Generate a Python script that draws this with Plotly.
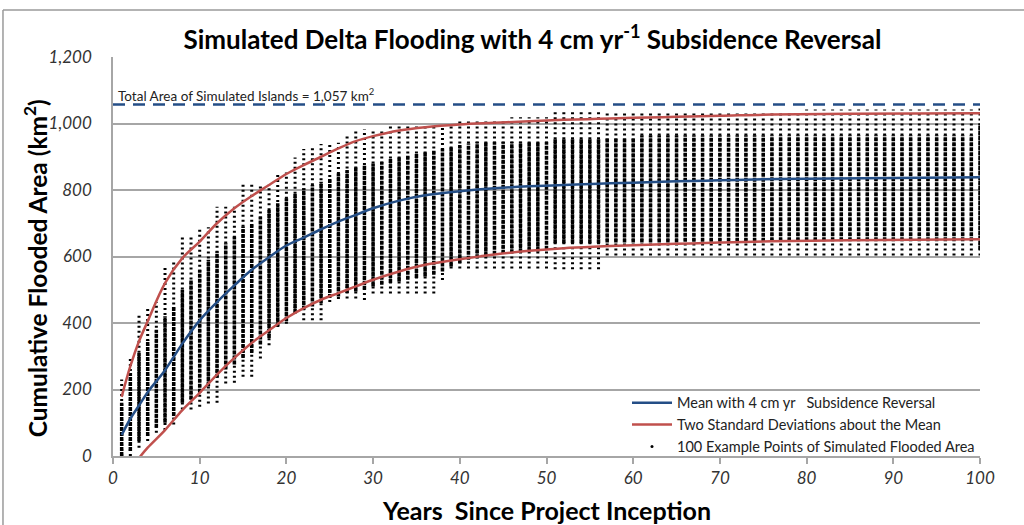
import plotly.graph_objects as go

# ---------------- data ----------------
years = list(range(1, 101))

# extent of the 100 example points per year (min / max), km2
pts_min = [0, 0, 25, 45, 70, 78, 95, 140, 140, 148,
           158, 160, 218, 220, 238, 238, 293, 333, 388, 398,
           428, 408, 408, 408, 463, 472, 474, 474, 469, 489,
           489, 489, 489, 489, 489, 489, 489, 529, 564, 564,
           564, 564, 564, 564, 564, 564, 564, 564, 564, 564,
           562, 562, 562, 562, 562, 562, 603, 603, 603, 603,
           603, 603, 603, 603, 603, 603, 603, 603, 603, 603,
           603, 603, 603, 603, 603, 603, 603, 603, 603, 603,
           603, 603, 603, 603, 603, 603, 603, 603, 603, 603,
           603, 603, 603, 603, 603, 603, 603, 603, 603, 603]
pts_max = [230, 300, 426, 448, 463, 570, 583, 663, 663, 688,
           688, 750, 750, 750, 816, 816, 816, 816, 848, 853,
           898, 923, 926, 938, 938, 942, 969, 982, 982, 982,
           982, 992, 995, 995, 995, 995, 995, 995, 995, 1007,
           1007, 1007, 1007, 1007, 1009, 1019, 1019, 1019, 1019, 1019,
           1035, 1035, 1035, 1035, 1035, 1035, 1035, 1035, 1035, 1035,
           1035, 1035, 1035, 1035, 1035, 1035, 1035, 1035, 1035, 1035,
           1035, 1035, 1035, 1035, 1035, 1035, 1035, 1035, 1035, 1042,
           1042, 1042, 1042, 1042, 1042, 1042, 1042, 1042, 1042, 1042,
           1042, 1042, 1042, 1042, 1042, 1042, 1042, 1042, 1042, 1053]
# dense part of each column
core_lo = [0, 15, 45, 60, 85, 100, 120, 160, 170, 190,
           210, 235, 260, 275, 295, 310, 335, 355, 390, 405,
           430, 440, 450, 460, 475, 480, 490, 495, 500, 510,
           515, 520, 525, 530, 535, 540, 545, 555, 570, 580,
           590, 595, 600, 605, 608, 610, 612, 615, 615, 620,
           640, 640, 640, 640, 640, 640, 642, 642, 642, 642,
           642, 642, 642, 642, 642, 644, 644, 644, 644, 644,
           644, 644, 644, 644, 644, 646, 646, 646, 646, 646,
           646, 646, 646, 646, 646, 646, 646, 646, 646, 646,
           646, 646, 646, 646, 646, 646, 646, 646, 646, 620]
core_hi = [160, 250, 310, 350, 380, 420, 450, 500, 530, 560,
           590, 615, 640, 660, 690, 700, 720, 740, 760, 775,
           790, 805, 815, 825, 835, 850, 860, 870, 875, 880,
           885, 895, 900, 905, 910, 915, 920, 925, 930, 935,
           940, 945, 945, 945, 945, 945, 945, 945, 945, 945,
           955, 955, 955, 955, 955, 955, 955, 955, 955, 955,
           965, 965, 965, 965, 965, 965, 965, 965, 965, 965,
           965, 965, 965, 965, 965, 965, 965, 965, 965, 965,
           965, 965, 965, 965, 965, 965, 965, 965, 965, 965,
           965, 965, 965, 965, 965, 965, 965, 965, 965, 1000]

# mean curve
mean_years = [1, 2, 3, 4, 6, 8, 10, 12, 14, 16, 18, 20, 22, 24, 26, 28, 30, 33,
              36, 40, 44, 48, 52, 56, 60, 65, 70, 75, 80, 90, 100]
mean_vals = [63, 112, 152, 192, 258, 338, 408, 463, 513, 560, 598, 633, 657, 682,
             705, 725, 745, 768, 784, 796, 805, 811, 815, 819, 822, 826, 829,
             832, 834, 836, 838]

# mean + 2 sd
up_years = [1, 2, 3, 4, 6, 8, 10, 12, 14, 16, 18, 20, 22, 24, 26, 28, 30, 33,
            36, 40, 44, 48, 52, 56, 60, 65, 70, 76, 85, 100]
up_vals = [178, 270, 345, 405, 520, 595, 645, 700, 745, 782, 815, 848, 875, 900,
           925, 947, 962, 979, 989, 997, 1002, 1007, 1011, 1014, 1017, 1020,
           1023, 1027, 1029, 1031]

# mean - 2 sd
lo_years = [2, 3, 4, 6, 8, 10, 12, 14, 16, 18, 20, 22, 24, 26, 28, 30, 33, 36,
            40, 44, 48, 52, 56, 60, 65, 70, 76, 85, 100]
lo_vals = [-40, -6, 25, 78, 138, 190, 245, 295, 340, 378, 415, 445, 470, 490,
           510, 530, 555, 575, 592, 606, 617, 625, 630, 634, 638, 642, 646,
           649, 652]

total_area = 1057
x_ticks = [0, 10, 20, 30, 40, 50, 60, 70, 80, 90, 100]
y_ticks = [0, 200, 400, 600, 800, 1000, 1200]
y_tick_text = ["0", "200", "400", "600", "800", "1,000", "1,200"]

# ---------------- figure ----------------
BLUE = "#244E86"
RED = "#C0504D"
GRID = "#A6A6A6"
FONT = "Lato, 'Open Sans', sans-serif"

def columns(lo, hi):
    xs, ys = [], []
    for yr, a, b in zip(years, lo, hi):
        xs += [yr, yr, None]
        ys += [a, b, None]
    return xs, ys

fig = go.Figure()

ox, oy = columns(pts_min, pts_max)
fig.add_trace(go.Scatter(x=ox, y=oy, mode="lines", showlegend=False,
                         line=dict(color="black", width=3, dash="2px,3px"),
                         hoverinfo="skip"))
cx, cy = columns(core_lo, core_hi)
fig.add_trace(go.Scatter(x=cx, y=cy, mode="lines", showlegend=False,
                         line=dict(color="black", width=3.5, dash="4px,1px"),
                         hoverinfo="skip"))

fig.add_trace(go.Scatter(x=[0, 100], y=[total_area, total_area], mode="lines",
                         showlegend=False,
                         line=dict(color=BLUE, width=2.5, dash="12px,8px")))

fig.add_trace(go.Scatter(x=mean_years, y=mean_vals, mode="lines",
                         name="Mean with 4 cm yr   Subsidence Reversal",
                         line=dict(color=BLUE, width=2.5, shape="spline")))
fig.add_trace(go.Scatter(x=up_years, y=up_vals, mode="lines",
                         name="Two Standard Deviations about the Mean",
                         legendgroup="sd",
                         line=dict(color=RED, width=2.5, shape="spline")))
fig.add_trace(go.Scatter(x=lo_years, y=lo_vals, mode="lines",
                         legendgroup="sd", showlegend=False,
                         line=dict(color=RED, width=2.5, shape="spline")))
fig.add_trace(go.Scatter(x=[None], y=[None], mode="markers",
                         name="100 Example Points of Simulated Flooded Area",
                         marker=dict(color="black", size=3, symbol="circle")))

fig.update_layout(
    width=1024, height=525,
    margin=dict(l=113, r=44, t=57, b=69),
    paper_bgcolor="white", plot_bgcolor="white",
    font=dict(family=FONT, color="#222"),
    title=dict(text="Simulated Delta Flooding with 4 cm yr<sup>-1</sup> Subsidence Reversal",
               x=0.52, xref="container", xanchor="center",
               y=1 - 40 / 525, yref="container", yanchor="middle",
               font=dict(family=FONT, size=26, color="black", weight="bold")),
    legend=dict(x=1.0, xanchor="right", y=-0.017, yanchor="bottom",
                bgcolor="rgba(255,255,255,0)", traceorder="normal",
                font=dict(family=FONT, size=14.5, color="#222"),
                itemwidth=40, tracegroupgap=0),
    showlegend=True,
)

fig.update_xaxes(range=[0, 100], tickvals=x_ticks, showgrid=False,
                 showline=True, linecolor=GRID, linewidth=1.5,
                 ticks="outside", ticklen=6, tickcolor=GRID, tickwidth=1.5,
                 tickfont=dict(family=FONT, size=17, color="#333", style="italic"),
                 zeroline=False)
fig.update_yaxes(range=[0, 1200], tickvals=y_ticks, ticktext=y_tick_text,
                 showgrid=True, gridcolor=GRID, gridwidth=1.5,
                 showline=True, linecolor=GRID, linewidth=1.5,
                 ticks="", ticklabelstandoff=16,
                 tickfont=dict(family=FONT, size=17, color="#333", style="italic"),
                 zeroline=False)

# axis titles
fig.add_annotation(text="Cumulative Flooded Area (km<sup>2</sup>)", textangle=-90,
                   xref="paper", yref="paper", x=-0.089, y=0.47,
                   xanchor="center", yanchor="middle", showarrow=False,
                   font=dict(family=FONT, size=24.5, color="black", weight="bold"))
fig.add_annotation(text="Years  Since Project Inception",
                   xref="paper", yref="paper", x=0.5, y=-0.135,
                   xanchor="center", yanchor="middle", showarrow=False,
                   font=dict(family=FONT, size=25, color="black", weight="bold"))
# label of the total-area line
fig.add_annotation(text="Total Area of Simulated Islands = 1,057 km<sup>2</sup>",
                   xref="x", yref="y", x=0.4, y=total_area, yshift=10,
                   xanchor="left", yanchor="middle", showarrow=False,
                   font=dict(family=FONT, size=13.5, color="#222"))

# chart border (top and left edges visible in the reference)
fig.add_shape(type="line", xref="paper", yref="paper",
              x0=-0.1269, x1=1.06, y0=1.1178, y1=1.1178,
              line=dict(color="#9A9A9A", width=1.5))
fig.add_shape(type="line", xref="paper", yref="paper",
              x0=-0.1269, x1=-0.1269, y0=1.1178, y1=-0.2,
              line=dict(color="#9A9A9A", width=1.5))

fig.write_html("out.html", config={"displayModeBar": False},
               post_script="document.body.style.margin='0';document.body.style.overflow='hidden';")
